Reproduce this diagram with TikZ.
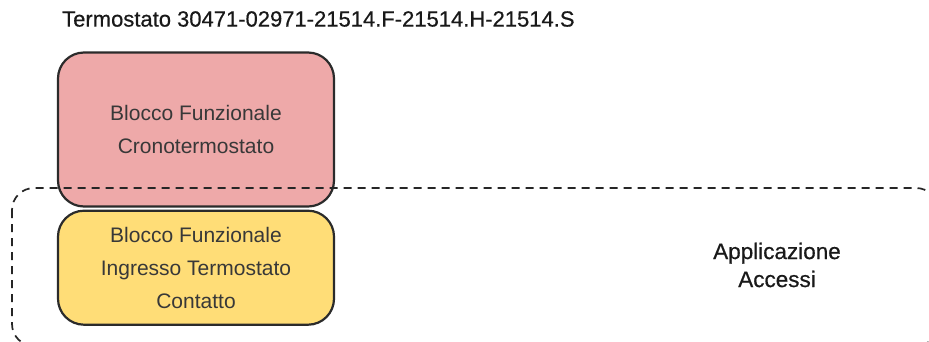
\documentclass[tikz,border=0pt]{standalone}
\usepackage{fontspec}
\setmainfont{Liberation Sans}
\newfontfamily\medio[FakeBold=0.5]{Liberation Sans}
\usepackage{xcolor}
\usetikzlibrary{positioning}

\definecolor{rosa}{HTML}{EEA9A9}
\definecolor{giallo}{HTML}{FFDD77}
\definecolor{bordo}{HTML}{2B2B2B}

\tikzset{
    blocco/.style={draw=bordo, line width=2.2pt, rounded corners=26pt,
        minimum width=276pt, align=center, text=black!78,
        font=\fontsize{21}{33}\selectfont},
    gruppo/.style={draw=black!85, line width=1.7pt, dash pattern=on 8pt off 6pt,
        rounded corners=22pt},
}

\begin{document}
\begin{tikzpicture}[x=1pt, y=-1pt]
    \useasboundingbox (0,0) rectangle (929,341);
    % Titolo
    \node[anchor=west, inner sep=0pt, text=black!90, font=\medio\fontsize{22}{26}\selectfont] (titolo) at (62,19)
        {Termostato 30471-02971-21514.F-21514.H-21514.S};

    % Blocchi funzionali
    \node[blocco, fill=rosa, minimum height=154pt] (crono) at (196,129.5)
        {Blocco Funzionale\\Cronotermostato};
    \node[blocco, fill=giallo, minimum height=114pt, below=2pt of crono] (ingresso)
        {Blocco Funzionale\\Ingresso Termostato\\Contatto};

    % Applicazione
    \draw[gruppo] (12,188) rectangle (938,346);
    \node[align=center, text=black!90, font=\medio\fontsize{22.5}{28}\selectfont] (accessi) at (777,265)
        {Applicazione\\Accessi};
\end{tikzpicture}
\end{document}
